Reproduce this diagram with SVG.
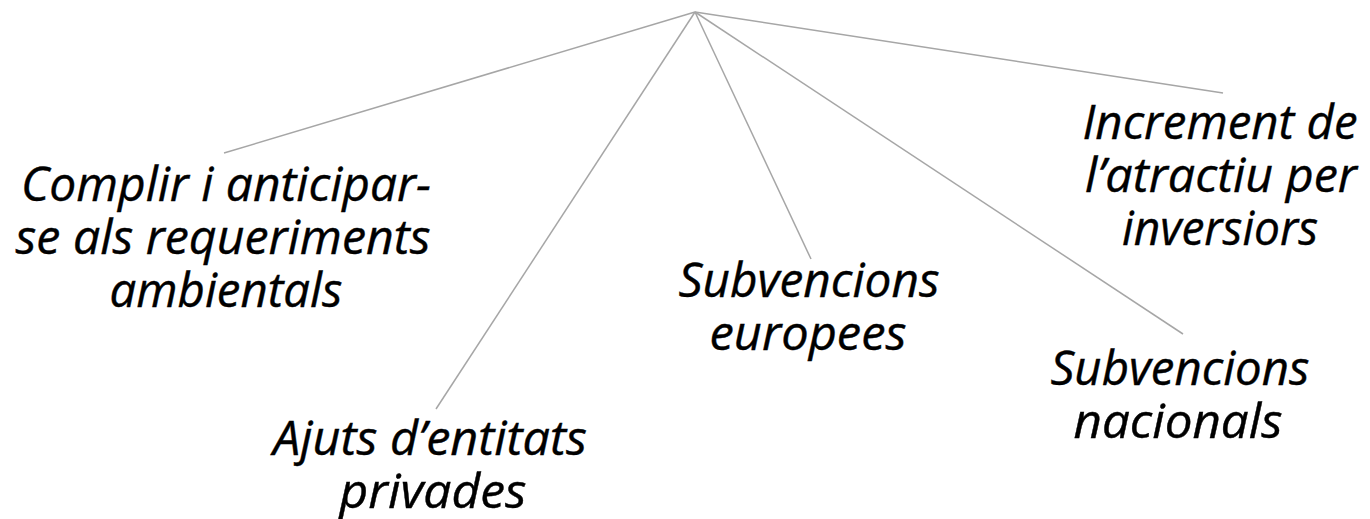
<svg xmlns="http://www.w3.org/2000/svg" width="1370" height="519" viewBox="0 0 1370 519">
<style>
.lbl{font-family:"Open Sans","Liberation Sans",sans-serif;font-style:italic;font-size:47px;fill:#000;stroke:#000;stroke-width:0.4;text-anchor:middle}
.con{stroke:#A6A6A6;stroke-width:1.5;fill:none}
</style>
<rect width="1370" height="519" fill="#fff"/>
<g id="connectors">
<line class="con" x1="695" y1="12" x2="224" y2="153"/>
<line class="con" x1="695" y1="12" x2="436" y2="409"/>
<line class="con" x1="695" y1="12" x2="811" y2="259"/>
<line class="con" x1="695" y1="12" x2="1183" y2="334"/>
<line class="con" x1="695" y1="12" x2="1223" y2="93"/>
</g>
<g id="node-complir">
<text class="lbl" x="226" y="201" textLength="410" lengthAdjust="spacingAndGlyphs">Complir i anticipar-</text>
<text class="lbl" x="223" y="254" textLength="415" lengthAdjust="spacingAndGlyphs">se als requeriments</text>
<text class="lbl" x="226" y="307" textLength="233" lengthAdjust="spacingAndGlyphs">ambientals</text>
</g>
<g id="node-ajuts">
<text class="lbl" x="430" y="455" textLength="314" lengthAdjust="spacingAndGlyphs">Ajuts d’entitats</text>
<text class="lbl" x="433" y="508" textLength="187" lengthAdjust="spacingAndGlyphs">privades</text>
</g>
<g id="node-europees">
<text class="lbl" x="809" y="297" textLength="261" lengthAdjust="spacingAndGlyphs">Subvencions</text>
<text class="lbl" x="808" y="350" textLength="197" lengthAdjust="spacingAndGlyphs">europees</text>
</g>
<g id="node-nacionals">
<text class="lbl" x="1180" y="385" textLength="259" lengthAdjust="spacingAndGlyphs">Subvencions</text>
<text class="lbl" x="1178" y="438" textLength="209" lengthAdjust="spacingAndGlyphs">nacionals</text>
</g>
<g id="node-increment">
<text class="lbl" x="1220" y="139" textLength="275" lengthAdjust="spacingAndGlyphs">Increment de</text>
<text class="lbl" x="1221" y="192" textLength="272" lengthAdjust="spacingAndGlyphs">l’atractiu per</text>
<text class="lbl" x="1220" y="245" textLength="196" lengthAdjust="spacingAndGlyphs">inversiors</text>
</g>
</svg>
